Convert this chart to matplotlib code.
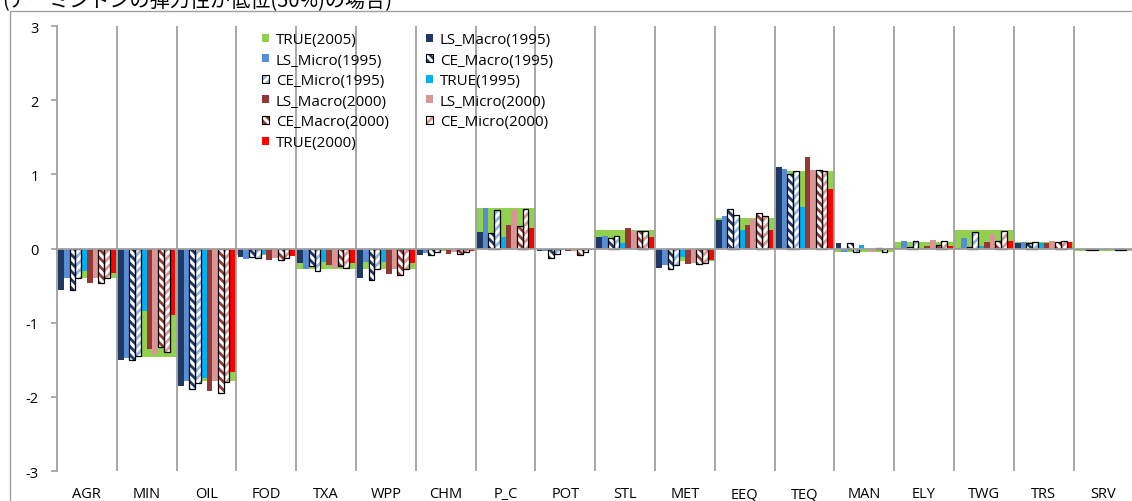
import matplotlib
matplotlib.use("Agg")
import matplotlib.pyplot as plt
from matplotlib.patches import Patch, Rectangle
import numpy as np

plt.rcParams['font.family'] = ['Open Sans', 'DejaVu Sans']
plt.rcParams['axes.unicode_minus'] = False
plt.rcParams['hatch.linewidth'] = 2.0

title = '(アーミントンの弾力性が低位(50%)の場合)'
categories = ['AGR', 'MIN', 'OIL', 'FOD', 'TXA', 'WPP', 'CHM', 'P_C', 'POT',
              'STL', 'MET', 'EEQ', 'TEQ', 'MAN', 'ELY', 'TWG', 'TRS', 'SRV']

true_2005 = [-0.40, -1.46, -1.78, -0.09, -0.27, -0.27, -0.03, 0.54, -0.02,
             0.25, -0.17, 0.41, 1.04, -0.05, 0.09, 0.25, 0.09, -0.03]
ls_macro_1995 = [-0.56, -1.51, -1.85, -0.12, -0.20, -0.40, -0.09, 0.22, -0.04,
                 0.16, -0.26, 0.38, 1.10, 0.08, 0.01, 0.01, 0.07, -0.02]
ls_micro_1995 = [-0.40, -1.47, -1.78, -0.14, -0.28, -0.18, -0.06, 0.55, -0.03,
                 0.17, -0.22, 0.44, 1.07, -0.05, 0.10, 0.14, 0.09, -0.02]
ce_macro_1995 = [-0.56, -1.51, -1.89, -0.12, -0.24, -0.43, -0.09, 0.21, -0.13,
                 0.14, -0.27, 0.53, 1.01, 0.08, 0.02, 0.02, 0.08, -0.02]
ce_micro_1995 = [-0.40, -1.45, -1.82, -0.13, -0.31, -0.27, -0.05, 0.52, -0.07,
                 0.17, -0.22, 0.45, 1.05, -0.05, 0.10, 0.22, 0.09, -0.02]
true_1995 = [-0.31, -0.84, -1.75, -0.07, -0.18, -0.18, -0.02, 0.16, -0.02,
             0.08, -0.11, 0.25, 0.56, 0.05, 0.01, 0.04, 0.07, -0.02]
ls_macro_2000 = [-0.46, -1.35, -1.92, -0.15, -0.22, -0.35, -0.08, 0.32, -0.04,
                 0.28, -0.21, 0.32, 1.24, 0.00, 0.04, 0.09, 0.07, -0.02]
ls_micro_2000 = [-0.40, -1.42, -1.78, -0.13, -0.26, -0.28, -0.05, 0.52, -0.03,
                 0.24, -0.20, 0.40, 1.06, -0.05, 0.11, 0.20, 0.10, -0.02]
ce_macro_2000 = [-0.46, -1.33, -1.95, -0.15, -0.24, -0.36, -0.08, 0.31, -0.09,
                 0.24, -0.21, 0.48, 1.06, 0.01, 0.05, 0.10, 0.09, -0.02]
ce_micro_2000 = [-0.40, -1.40, -1.80, -0.13, -0.26, -0.27, -0.05, 0.53, -0.05,
                 0.23, -0.20, 0.44, 1.04, -0.05, 0.10, 0.23, 0.10, -0.02]
true_2000 = [-0.33, -0.89, -1.67, -0.10, -0.20, -0.20, -0.04, 0.28, -0.02,
             0.16, -0.15, 0.25, 0.80, 0.01, 0.03, 0.10, 0.09, -0.02]

yticks = [3, 2, 1, 0, -1, -2, -3]

W, H = 1132, 502
fig = plt.figure(figsize=(W / 100, H / 100), dpi=100)
ax = fig.add_axes([57 / W, 1 - 472 / H, 1076.4 / W, 445 / H])

grid_c = '#A0A0A0'
idx = np.arange(len(categories))

# background wide bar
ax.bar(idx, true_2005, width=1.0, align='edge', color='#92D050', zorder=1,
       linewidth=0)

series = [
    ('LS_Macro(1995)', ls_macro_1995, '#1F3864', None),
    ('LS_Micro(1995)', ls_micro_1995, '#558ED5', None),
    ('CE_Macro(1995)', ce_macro_1995, '#1F3864', '\\\\\\\\'),
    ('CE_Micro(1995)', ce_micro_1995, '#8DB4E2', '////'),
    ('TRUE(1995)', true_1995, '#00B0F0', None),
    ('LS_Macro(2000)', ls_macro_2000, '#953735', None),
    ('LS_Micro(2000)', ls_micro_2000, '#D99694', None),
    ('CE_Macro(2000)', ce_macro_2000, '#953735', '\\\\\\\\'),
    ('CE_Micro(2000)', ce_micro_2000, '#D99694', '////'),
    ('TRUE(2000)', true_2000, '#FF0000', None),
]

bw = 0.096
start = 0.02
handles = {}
for k, (name, vals, col, hatch) in enumerate(series):
    xs = idx + start + k * bw
    if hatch is None:
        ax.bar(xs, vals, width=bw, align='edge', color=col, linewidth=0, zorder=2)
        handles[name] = Patch(facecolor=col, edgecolor='none')
    else:
        ax.bar(xs, vals, width=bw, align='edge', facecolor='white', edgecolor=col,
               hatch=hatch, linewidth=0, zorder=2)
        ax.bar(xs, vals, width=bw, align='edge', fill=False, edgecolor='black',
               linewidth=0.9, zorder=2.1)
        h1 = Patch(facecolor='white', edgecolor=col, hatch=hatch, linewidth=0)
        h2 = Patch(fill=False, edgecolor='black', linewidth=0.8)
        handles[name] = (h1, h2)
handles['TRUE(2005)'] = Patch(facecolor='#92D050', edgecolor='none')

for v in range(1, len(categories) + 1):
    ax.axvline(v, color=grid_c, lw=1.3, zorder=1.5)
ax.axhline(0, color=grid_c, lw=1.3, zorder=3)

ax.set_xlim(0, len(categories))
ax.set_ylim(-3, 3)
ax.set_yticks(yticks)
ax.set_yticklabels([str(t) for t in yticks])
ax.set_xticks(idx + 0.5)
ax.set_xticklabels(categories)
ax.tick_params(axis='y', direction='out', length=4, width=1.2, color=grid_c,
               labelsize=10.5, pad=9)
ax.tick_params(axis='x', length=0, labelsize=10.5, pad=11)
for s in ['top', 'right', 'bottom']:
    ax.spines[s].set_visible(False)
ax.spines['left'].set_color(grid_c)
ax.spines['left'].set_linewidth(1.3)

# legend (Excel row-wise order -> column-major for matplotlib)
col1 = ['TRUE(2005)', 'LS_Micro(1995)', 'CE_Micro(1995)', 'LS_Macro(2000)',
        'CE_Macro(2000)', 'TRUE(2000)']
col2 = ['LS_Macro(1995)', 'CE_Macro(1995)', 'TRUE(1995)', 'LS_Micro(2000)',
        'CE_Micro(2000)']
order = col1 + col2
leg = fig.legend([handles[n] for n in order], order, ncol=2, frameon=False,
                 loc='upper left', bbox_to_anchor=(262 / W, 1 - 33 / H),
                 fontsize=10.9, handlelength=0.45, handleheight=0.45,
                 handletextpad=0.47, labelspacing=0.37, columnspacing=2.45,
                 borderpad=0, borderaxespad=0)

# chart border
fig.patches.append(Rectangle((9.5 / W, -0.1), 1.2, 1.1 - 12 / H,
                             transform=fig.transFigure, fill=False,
                             edgecolor=grid_c, linewidth=1.0))

fig.text(2 / W, 1 - 2 / H, title, ha='left', va='center', fontsize=14.5,
         family=['Noto Sans CJK JP', 'DejaVu Sans'])

fig.savefig('out.png', dpi=100)
